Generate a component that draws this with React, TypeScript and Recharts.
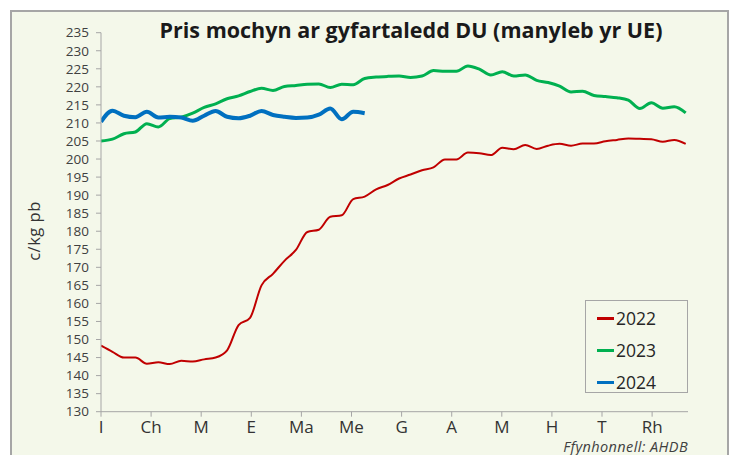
import React from 'react';
import { LineChart, Line, XAxis, YAxis } from 'recharts';

const weeks = [
  1, 2, 3, 4, 5, 6, 7, 8, 9, 10, 11, 12, 13, 14, 15, 16, 17, 18, 19, 20, 21, 22, 23, 24, 25, 26,
  27, 28, 29, 30, 31, 32, 33, 34, 35, 36, 37, 38, 39, 40, 41, 42, 43, 44, 45, 46, 47, 48, 49, 50, 51, 52,
];

const prices2022 = [
  148.3, 146.6, 145.0, 145.0, 143.3, 143.7, 143.2, 144.1, 143.9, 144.5, 145.0, 147.0, 154.0,
  156.0, 165.0, 168.2, 171.8, 174.8, 179.8, 180.4, 184.0, 184.4, 188.9, 189.6, 191.6, 192.8,
  194.6, 195.7, 196.9, 197.7, 199.9, 199.9, 201.8, 201.6, 201.1, 203.1, 202.7, 203.9, 202.8,
  203.7, 204.2, 203.7, 204.3, 204.3, 204.9, 205.3, 205.7, 205.6, 205.5, 204.8, 205.3, 204.2,
];

const prices2023 = [
  205.0, 205.5, 207.0, 207.5, 209.8, 208.9, 211.2, 211.6, 212.7, 214.3, 215.3, 216.7, 217.5,
  218.7, 219.6, 219.0, 220.1, 220.4, 220.7, 220.8, 219.8, 220.7, 220.6, 222.3, 222.7, 222.9,
  223.0, 222.6, 223.0, 224.5, 224.3, 224.3, 225.8, 224.9, 223.3, 224.2, 223.0, 223.3, 221.8,
  221.2, 220.2, 218.6, 218.8, 217.6, 217.3, 217.0, 216.3, 214.0, 215.6, 214.1, 214.5, 212.8,
];

const prices2024 = [
  210.3, 213.4, 212.0, 211.6, 213.1, 211.5, 211.7, 211.5, 210.6, 212.0, 213.3, 211.7, 211.3,
  212.0, 213.3, 212.2, 211.7, 211.4, 211.5, 212.3, 214.0, 211.0, 213.1, 212.7,
];

const monthLabels = ['I', 'Ch', 'M', 'E', 'Ma', 'Me', 'G', 'A', 'M', 'H', 'T', 'Rh'];
const monthTickWeeks = [1, 5.37, 9.74, 14.11, 18.48, 22.85, 27.22, 31.59, 35.96, 40.33, 44.7, 49.07];
const yTicks = [130, 135, 140, 145, 150, 155, 160, 165, 170, 175, 180, 185, 190, 195, 200, 205, 210, 215, 220, 225, 230, 235];

const seriesNames = ['2022', '2023', '2024'];
const seriesKeys = ['y2022', 'y2023', 'y2024'];
const seriesColors = ['#C00000', '#00B050', '#0070C0'];
const seriesWidths = [2, 3, 4];

const data = weeks.map((w, i) => ({
  week: w,
  y2022: prices2022[i],
  y2023: prices2023[i],
  y2024: prices2024[i],
}));

const FONT = '"Open Sans", "Noto Sans", sans-serif';
const BG = '#F4F8EA';
const GRAY = '#A6A6A6';

const YLabel = () => (
  <text
    x={33}
    y={231}
    transform="rotate(-90 33 231)"
    textAnchor="middle"
    dominantBaseline="central"
    fill="#333333"
    fontSize={16.5}
    letterSpacing={0.5}
    fontFamily={FONT}
  >
    c/kg pb
  </text>
);

export default function App() {
  return (
    <div
      style={{
        position: 'absolute',
        left: 0,
        top: 0,
        width: 729,
        height: 455,
        overflow: 'hidden',
        background: '#FFFFFF',
        fontFamily: FONT,
      }}
    >
      <div
        style={{
          position: 'absolute',
          left: 10,
          top: 10,
          width: 715,
          height: 470,
          border: `2px solid ${GRAY}`,
          background: BG,
        }}
      />
      <div
        style={{
          position: 'absolute',
          left: 110,
          width: 602,
          top: 15,
          textAlign: 'center',
          fontSize: 21.5,
          fontWeight: 700,
          color: '#1A1A1A',
          whiteSpace: 'nowrap',
        }}
      >
        Pris mochyn ar gyfartaledd DU (manyleb yr UE)
      </div>
      <div style={{ position: 'absolute', left: 0, top: 0 }}>
        <LineChart
          width={729}
          height={455}
          data={data}
          margin={{ top: 32.7, right: 41, bottom: 13.3, left: 41 }}
        >
          <XAxis
            dataKey="week"
            type="number"
            domain={[1, 52.2]}
            ticks={monthTickWeeks}
            interval={0}
            allowDataOverflow
            tickFormatter={(v: number, i: number) => monthLabels[i]}
            height={30}
            tickSize={5}
            tickMargin={4}
            stroke={GRAY}
            tick={{ fill: '#333333', fontSize: 17, fontFamily: FONT }}
          />
          <YAxis
            domain={[130, 235]}
            ticks={yTicks}
            interval={0}
            width={60}
            tickSize={5}
            tickMargin={7}
            stroke={GRAY}
            tick={{ fill: '#404040', fontSize: 13.5, fontFamily: FONT }}
            label={<YLabel />}
          />
          {seriesKeys.map((k, i) => (
            <Line
              key={k}
              dataKey={k}
              name={seriesNames[i]}
              type="monotone"
              stroke={seriesColors[i]}
              strokeWidth={seriesWidths[i]}
              dot={false}
              activeDot={false}
              isAnimationActive={false}
            />
          ))}
        </LineChart>
      </div>
      <div
        style={{
          position: 'absolute',
          left: 585,
          top: 300,
          width: 101,
          height: 91,
          border: `1.5px solid ${GRAY}`,
          background: BG,
        }}
      >
        {seriesNames.map((n, i) => (
          <div
            key={n}
            style={{
              position: 'absolute',
              left: 11,
              top: 5 + i * 32,
              display: 'flex',
              alignItems: 'center',
              height: 24,
            }}
          >
            <div style={{ width: 17, height: 3, background: seriesColors[i], marginRight: 2 }} />
            <span style={{ fontSize: 17.5, color: '#262626' }}>{n}</span>
          </div>
        ))}
      </div>
      <div
        style={{
          position: 'absolute',
          right: 41,
          top: 439,
          fontSize: 14.5,
          lineHeight: '15px',
          letterSpacing: 0.4,
          fontStyle: 'italic',
          color: '#404040',
          whiteSpace: 'nowrap',
        }}
      >
        Ffynhonnell: AHDB
      </div>
    </div>
  );
}
